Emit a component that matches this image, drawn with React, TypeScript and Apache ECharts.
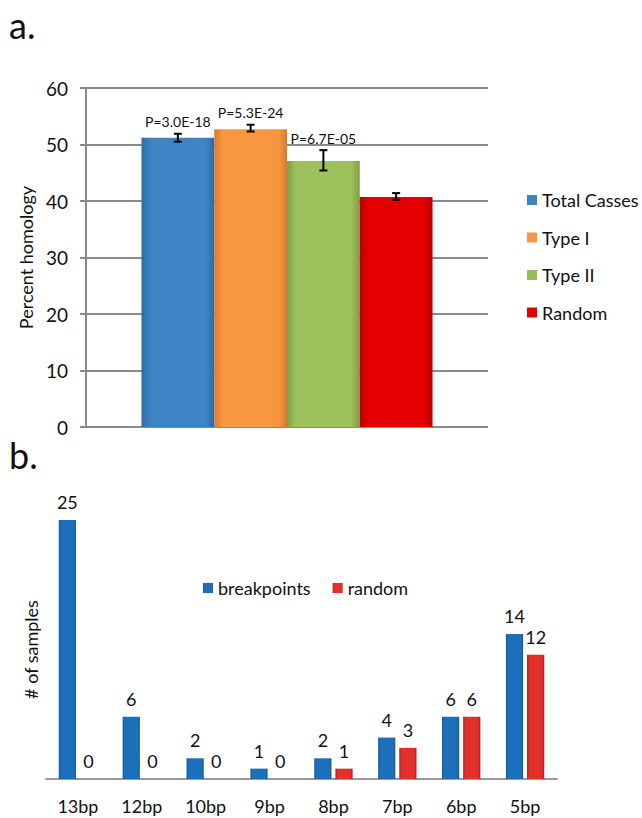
import React, { useEffect, useRef } from "react";
import * as echarts from "echarts";

// ---- Panel a data ----
const groupNames = ["Total Casses", "Type I", "Type II", "Random"];
const homologyMeans = [51.2, 52.7, 47.1, 40.7];
const errLow = [50.5, 52.3, 45.4, 40.2];
const errHigh = [51.9, 53.5, 49.0, 41.4];
const pLabels = ["P=3.0E-18", "P=5.3E-24", "P=6.7E-05", ""];
const yTicksA = { min: 0, max: 60, interval: 10 };

// ---- Panel b data ----
const bpCategories = ["13bp", "12bp", "10bp", "9bp", "8bp", "7bp", "6bp", "5bp"];
const breakpoints = [25, 6, 2, 1, 2, 4, 6, 14];
const randomCounts = [0, 0, 0, 0, 1, 3, 6, 12];

const FONT = "Lato";
const gapA = 0.276;

function hGrad(edge: string, mid: string) {
  return new echarts.graphic.LinearGradient(0, 0, 1, 0, [
    { offset: 0, color: edge },
    { offset: 0.12, color: mid },
    { offset: 0.88, color: mid },
    { offset: 1, color: edge },
  ]);
}

const colorsA = [
  hGrad("#2f6aa3", "#3e84c5"),
  hGrad("#d97a2c", "#f99741"),
  hGrad("#7f9d45", "#9dc15c"),
  hGrad("#b80000", "#e40000"),
];
const legendColorsA = ["#3e84c5", "#f79646", "#9bbb59", "#e40000"];
const blueB = hGrad("#15568f", "#1d6fbb");
const redB = hGrad("#a81b1b", "#e2302c");

export default function App() {
  const ref = useRef<HTMLDivElement>(null);
  useEffect(() => {
    if (!ref.current) return;
    const chart = echarts.init(ref.current, null, { renderer: "svg" });

    const seriesA: any[] = groupNames.map((name, i) => ({
      type: "bar",
      name,
      xAxisIndex: 0,
      yAxisIndex: 0,
      data: [homologyMeans[i]],
      barGap: "0%",
      barCategoryGap: gapA * 100 + "%",
      itemStyle: { color: colorsA[i] },
    }));

    const errData = groupNames.map((_, i) => [0, errLow[i], errHigh[i], i]);
    seriesA.push({
      type: "custom",
      name: "err",
      xAxisIndex: 0,
      yAxisIndex: 0,
      z: 10,
      encode: { x: 0, y: [1, 2] },
      data: errData,
      renderItem: (params: any, api: any) => {
        const idx = api.value(3);
        const band = api.size([1, 0])[0];
        const bw = (band * (1 - gapA)) / 4;
        const cx = api.coord([0, 0])[0] + (idx - 1.5) * bw;
        const top = api.coord([0, api.value(2)])[1];
        const bot = api.coord([0, api.value(1)])[1];
        const cap = 4;
        const st = { stroke: "#000", lineWidth: 2 };
        const children: any[] = [
          { type: "line", shape: { x1: cx, y1: top, x2: cx, y2: bot }, style: st },
          { type: "line", shape: { x1: cx - cap, y1: top, x2: cx + cap, y2: top }, style: st },
          { type: "line", shape: { x1: cx - cap, y1: bot, x2: cx + cap, y2: bot }, style: st },
        ];
        const t = pLabels[idx];
        if (t) {
          children.push({
            type: "text",
            x: cx,
            y: top - 5,
            style: {
              text: t,
              fill: "#111",
              font: `14px ${FONT}`,
              align: "center",
              verticalAlign: "bottom",
            },
          });
        }
        return { type: "group", children };
      },
    });

    const labelB = {
      show: true,
      position: "top",
      distance: 9,
      fontSize: 18,
      fontFamily: FONT,
      color: "#111",
    };
    const seriesB: any[] = [
      {
        type: "bar",
        name: "breakpoints",
        xAxisIndex: 1,
        yAxisIndex: 1,
        data: breakpoints,
        barGap: "23%",
        barCategoryGap: "40%",
        itemStyle: { color: blueB },
        label: labelB,
      },
      {
        type: "bar",
        name: "random",
        xAxisIndex: 1,
        yAxisIndex: 1,
        data: randomCounts,
        barGap: "23%",
        barCategoryGap: "40%",
        itemStyle: { color: redB },
        label: labelB,
      },
    ];

    const option: any = {
      animation: false,
      backgroundColor: "#fff",
      textStyle: { fontFamily: FONT },
      graphic: [
        {
          type: "text",
          x: 9,
          y: 25,
          style: { text: "a.", font: `36px ${FONT}`, fill: "#111", verticalAlign: "middle" },
        },
        {
          type: "text",
          x: 9,
          y: 455,
          style: { text: "b.", font: `36px ${FONT}`, fill: "#111", verticalAlign: "middle" },
        },
      ],
      legend: [
        {
          data: groupNames.map((n, i) => ({ name: n, itemStyle: { color: legendColorsA[i] } })),
          orient: "vertical",
          left: 522,
          top: 185,
          icon: "rect",
          itemWidth: 10,
          itemHeight: 10,
          itemGap: 17.5,
          textStyle: { fontSize: 18, fontFamily: FONT, color: "#111", lineHeight: 20 },
        },
        {
          data: ["breakpoints", "random"],
          orient: "horizontal",
          left: 198,
          top: 573,
          icon: "rect",
          itemWidth: 10,
          itemHeight: 10,
          itemGap: 22,
          textStyle: { fontSize: 18, fontFamily: FONT, color: "#111", lineHeight: 20 },
        },
      ],
      grid: [
        { left: 86, width: 402, top: 88, height: 339 },
        { left: 46, width: 511, top: 520, height: 259 },
      ],
      xAxis: [
        {
          gridIndex: 0,
          type: "category",
          data: [""],
          axisLine: { show: false },
          axisTick: { show: false },
          axisLabel: { show: false },
        },
        {
          gridIndex: 1,
          type: "category",
          data: bpCategories,
          axisLine: { show: true, lineStyle: { color: "#9a9a9a", width: 2 } },
          axisTick: { show: false },
          axisLabel: { fontSize: 18, fontFamily: FONT, color: "#111", margin: 18 },
        },
      ],
      yAxis: [
        {
          gridIndex: 0,
          type: "value",
          min: yTicksA.min,
          max: yTicksA.max,
          interval: yTicksA.interval,
          name: "Percent homology",
          nameLocation: "middle",
          nameGap: 48,
          nameTextStyle: { fontSize: 18, fontFamily: FONT, color: "#111" },
          axisLine: { show: true, lineStyle: { color: "#8a8a8a", width: 2 } },
          axisTick: { show: true, length: 6, lineStyle: { color: "#8a8a8a", width: 2 } },
          axisLabel: { fontSize: 19, fontFamily: FONT, color: "#111", margin: 18 },
          splitLine: { show: true, lineStyle: { color: "#8a8a8a", width: 2 } },
        },
        {
          gridIndex: 1,
          type: "value",
          min: 0,
          max: 25,
          name: "# of samples",
          nameLocation: "middle",
          nameGap: 6,
          nameTextStyle: { fontSize: 18, fontFamily: FONT, color: "#111" },
          axisLine: { show: false },
          axisTick: { show: false },
          axisLabel: { show: false },
          splitLine: { show: false },
        },
      ],
      series: [...seriesA, ...seriesB],
    };
    chart.setOption(option);
    return () => chart.dispose();
  }, []);
  return (
    <div
      ref={ref}
      style={{ position: "fixed", left: 0, top: 0, width: 642, height: 818, background: "#fff" }}
    />
  );
}
